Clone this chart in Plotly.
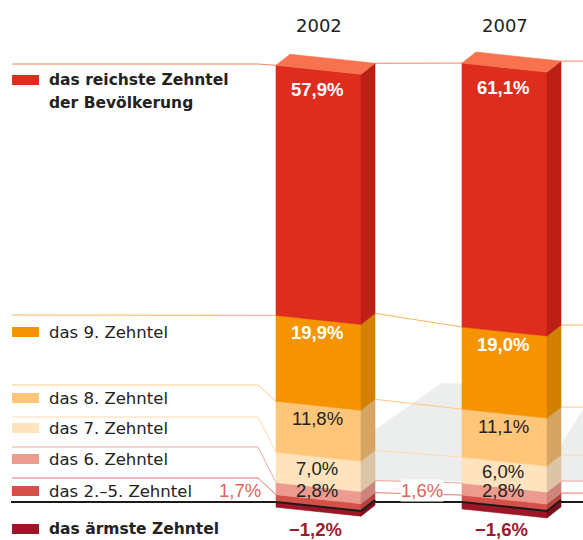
import plotly.graph_objects as go

# ---------------- data ----------------
years = ["2002", "2007"]
groups = ["das ärmste Zehntel", "das 2.–5. Zehntel", "das 6. Zehntel",
          "das 7. Zehntel", "das 8. Zehntel", "das 9. Zehntel",
          "das reichste Zehntel<br>der Bevölkerung"]
shares_2002 = [-1.2, 1.7, 2.8, 7.0, 11.8, 19.9, 57.9]
shares_2007 = [-1.6, 1.6, 2.8, 6.0, 11.1, 19.0, 61.1]
shares = [shares_2002, shares_2007]

# ---------------- styles ----------------
FRONT = ["#9E1527", "#D6504A", "#EE9B8F", "#FFE2BE", "#FFC679", "#F59400", "#DE2C1F"]
SIDE = ["#7C0F1D", "#B7413C", "#CD857B", "#DCC5A5", "#D6A564", "#D38000", "#BC1F14"]
TOP = "#F7734F"
LINKS = [None, "#E8736E", "#F2A59C", "#FFD9AE", "#FFC98A", "#FBB45C", "#F7845F"]
LABEL_COLOR = ["#9C1A2E", "#E0625C", "#222222", "#222222", "#222222", "#FFFFFF", "#FFFFFF"]
LABEL_BOLD = [True, False, False, False, False, True, True]
LEGEND_BOLD = [True, False, False, False, False, False, True]
TEXT = "#222222"

W, H = 583, 540
PPU = 4.32          # pixels per percentage point
ZERO_PX = 502       # pixel row of the zero line
BAR_X0, BAR_STEP, BAR_W = 276, 186, 85
DEPTH_X, DEPTH_Y, SLANT = 14, 11, 9
LEG_ROW_Y = [529, 491, 459, 428, 398, 332, 80]
LEG_LINE_Y = [None, 478, 447, 417, 385, 315, 64]
LEG_X0, LEG_X1, LEG_TXT, LEG_BEND = 12, 39, 48, 258
LBL_DX = 41
NEG_LBL_MAX_PX = 529
VALFONT = "Liberation Sans"
LEGFONT = "DejaVu Sans"


def pv(px):
    return px / PPU


def vy(py):
    return (ZERO_PX - py) / PPU


s = pv(SLANT)
d = pv(DEPTH_Y)

fig = go.Figure()


def poly(xs, ys, color):
    fig.add_trace(go.Scatter(x=xs + [xs[0]], y=ys + [ys[0]], mode="lines",
                             fill="toself", fillcolor=color,
                             line=dict(color=color, width=0.6),
                             hoverinfo="skip", showlegend=False))


def line(xs, ys, color, width=1.0):
    fig.add_trace(go.Scatter(x=xs, y=ys, mode="lines",
                             line=dict(color=color, width=width),
                             hoverinfo="skip", showlegend=False))


def stack(vals):
    segs, pos, neg = [], 0.0, 0.0
    for val in vals:
        if val < 0:
            segs.append((neg + val, neg)); neg += val
        else:
            segs.append((pos, pos + val)); pos += val
    return segs


segs = [stack(v) for v in shares]
x0s = [BAR_X0 + i * BAR_STEP for i in range(len(years))]

# shadows behind bars
sx = x0s[0] + BAR_W + DEPTH_X
poly([sx, sx + 67, x0s[1], x0s[1], sx], [vy(430), vy(383), vy(384), vy(481), vy(481)], "#ECEDED")
sx2 = x0s[1] + BAR_W + DEPTH_X
poly([sx2, W, W, sx2], [vy(445), vy(410), vy(481), vy(481)], "#ECEDED")

# zero line
line([11, W], [0, 0], "#1A1A1A", 2)

# connecting lines
for k in range(1, len(groups)):
    ly = vy(LEG_LINE_Y[k])
    hi0 = segs[0][k][1]
    line([LEG_X0, LEG_BEND, x0s[0]], [ly, ly, hi0], LINKS[k])
    for i in range(len(years) - 1):
        a = segs[i][k][1]; b = segs[i + 1][k][1]
        line([x0s[i] + BAR_W + DEPTH_X, x0s[i + 1]], [a - s + d, b], LINKS[k])
    last = segs[-1][k][1] - s + d
    line([x0s[-1] + BAR_W + DEPTH_X, W], [last, last], LINKS[k])

# bars
for i, x0 in enumerate(x0s):
    xr = x0 + BAR_W
    xb = xr + DEPTH_X
    for k, (lo, hi) in enumerate(segs[i]):
        poly([x0, xr, xr, x0], [hi, hi - s, lo - s, lo], FRONT[k])
        poly([xr, xb, xb, xr], [hi - s, hi - s + d, lo - s + d, lo - s], SIDE[k])
    top = segs[i][-1][1]
    poly([x0, xr, xb, x0 + DEPTH_X], [top, top - s, top - s + d, top + d], TOP)
    line([x0, xr, xb], [0, -s, -s + d], "#1A1A1A", 2)

annotations = []


def fmt(val):
    t = f"{abs(val):.1f}".replace(".", ",") + "%"
    return ("−" + t) if val < 0 else t


def ann(x, y, text, color, size, bold=False, family=VALFONT, xanchor="center", bg=None):
    annotations.append(dict(x=x, y=y, xref="x", yref="y", text=text, showarrow=False,
                            xanchor=xanchor, yanchor="middle",
                            font=dict(family=family, size=size, color=color,
                                      weight="bold" if bold else "normal"),
                            bgcolor=bg, borderpad=0))


# value labels
for i, x0 in enumerate(x0s):
    cx = x0 + LBL_DX
    n = len(segs[i])
    for k, (lo, hi) in enumerate(segs[i]):
        val = shares[i][k]
        hpx = (hi - lo) * PPU
        if val < 0:
            y = max(lo - s / 2 - pv(19), vy(NEG_LBL_MAX_PX))
            ann(x0 + 39, y, fmt(val), LABEL_COLOR[k], 18.5, True)
        elif k == 1:
            if i == 0:
                ann(x0 - 14, hi + pv(4), fmt(val), LABEL_COLOR[k], 18.5, xanchor="right")
            else:
                mid = (x0s[i - 1] + BAR_W + DEPTH_X + x0) / 2 + 3
                ann(mid, hi + pv(5), fmt(val), LABEL_COLOR[k], 18.5, bg="#FFFFFF")
        else:
            off = 20 if k == n - 1 else min(13, hpx / 2 - 3)
            ann(cx, hi - s / 2 - pv(off), fmt(val), LABEL_COLOR[k], 18.5, LABEL_BOLD[k])
    ann(x0 + BAR_W / 2, vy(25), years[i], TEXT, 18, family=LEGFONT)

# legend
shapes = []
for k, g in enumerate(groups):
    yc = LEG_ROW_Y[k]
    shapes.append(dict(type="rect", xref="x", yref="y", x0=LEG_X0, x1=LEG_X1,
                       y0=vy(yc - 5), y1=vy(yc + 5), fillcolor=FRONT[k], line=dict(width=0),
                       layer="above"))
    for j, part in enumerate(g.split("<br>")):
        ann(LEG_TXT, vy(yc + 23 * j), part, TEXT, 15.5 if LEGEND_BOLD[k] else 16.5,
            LEGEND_BOLD[k], family=LEGFONT, xanchor="left")

fig.update_layout(
    width=W, height=H, margin=dict(l=0, r=0, t=0, b=0),
    paper_bgcolor="white", plot_bgcolor="white",
    xaxis=dict(range=[0, W], visible=False, fixedrange=True),
    yaxis=dict(range=[vy(H), vy(0)], visible=False, fixedrange=True),
    annotations=annotations, shapes=shapes, showlegend=False,
)
fig.write_html("out.html")
